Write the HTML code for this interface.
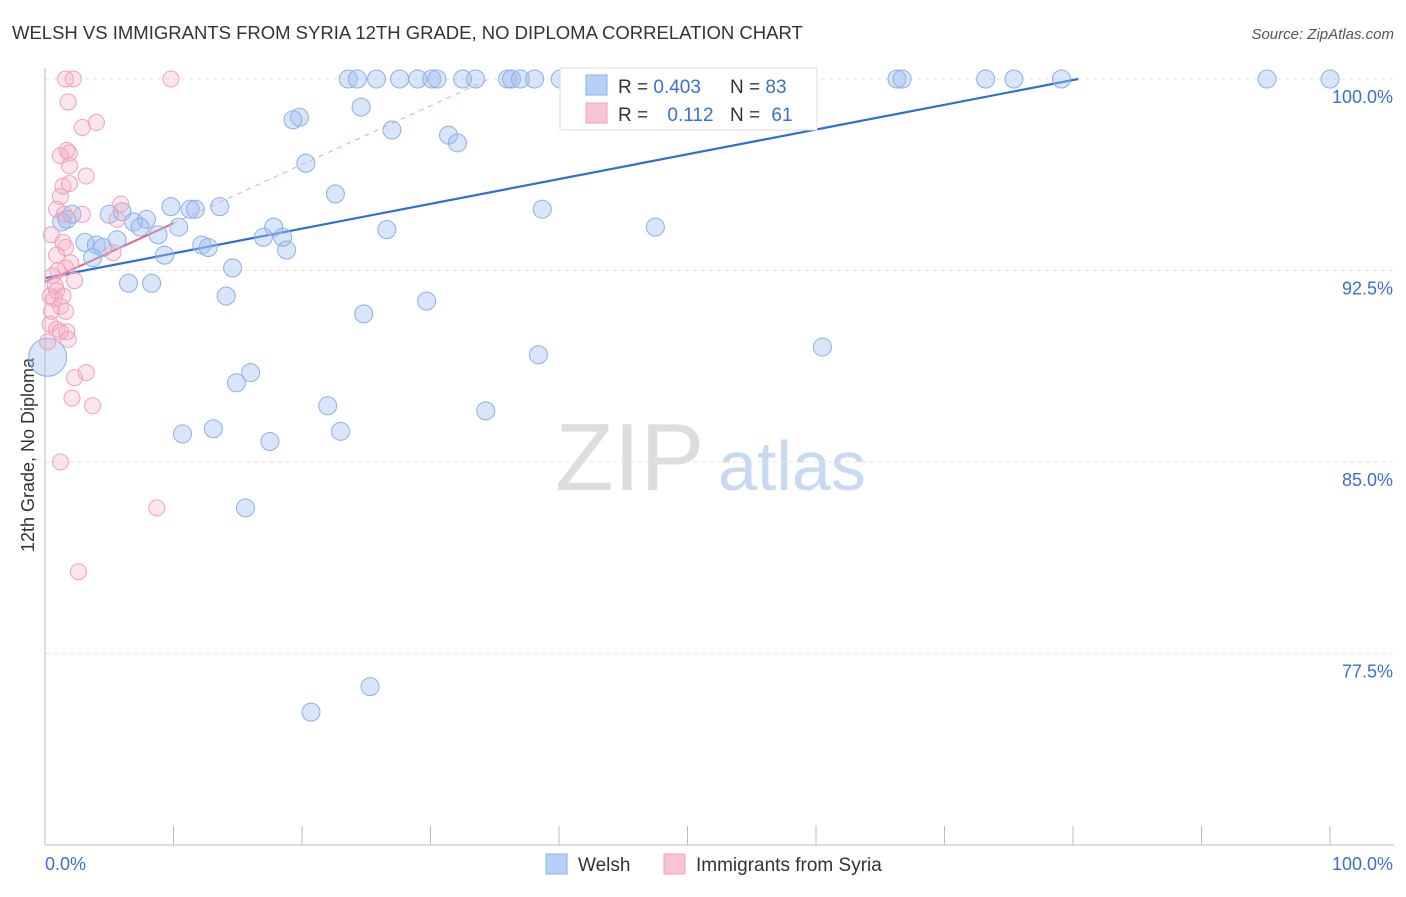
<!DOCTYPE html>
<html><head><meta charset="utf-8"><style>
body{margin:0;background:#fff;font-family:"Liberation Sans",sans-serif}
svg text{font-family:"Liberation Sans",sans-serif}
</style></head><body>
<svg id="c" width="1406" height="892" xmlns="http://www.w3.org/2000/svg">
<text x="12" y="39" font-size="18.5" fill="#333">WELSH VS IMMIGRANTS FROM SYRIA 12TH GRADE, NO DIPLOMA CORRELATION CHART</text>
<text x="1394" y="39" font-size="15" fill="#555" text-anchor="end" font-style="italic">Source: ZipAtlas.com</text>
<text x="34" y="455" font-size="18" fill="#333" text-anchor="middle" transform="rotate(-90 34 455)">12th Grade, No Diploma</text>
<g><text x="555" y="490" font-size="96" fill="#ddd" font-family="Liberation Serif,serif">ZIP</text><text x="718" y="490" font-size="70" fill="#c8daf2">atlas</text></g>
<g id="grid"></g><g id="axes"></g><g id="trend"></g><g id="pts"></g>
<g>
<rect x="560" y="68" width="257" height="62" fill="#fff" stroke="#ddd"/>
<rect x="586" y="75" width="21" height="20" fill="#b7d0f5" stroke="#8ab0e8"/>
<rect x="586" y="103" width="21" height="20" fill="#f9c3d4" stroke="#f0a0bc"/>
<text x="618" y="93" font-size="19" fill="#333">R = <tspan fill="#3a6fd0">0.403</tspan></text>
<text x="730" y="93" font-size="19" fill="#333">N = <tspan fill="#3a6fd0">83</tspan></text>
<text x="618" y="121" font-size="19" fill="#333">R = <tspan fill="#3a6fd0" dx="14">0.112</tspan></text>
<text x="730" y="121" font-size="19" fill="#333">N = <tspan fill="#3a6fd0" dx="6">61</tspan></text>
</g>
<g>
<rect x="546" y="854" width="21" height="20" fill="#b7d0f5" stroke="#8ab0e8"/>
<text x="578" y="871" font-size="19" fill="#333">Welsh</text>
<rect x="664" y="854" width="21" height="20" fill="#f9c3d4" stroke="#f0a0bc"/>
<text x="696" y="871" font-size="19" fill="#333">Immigrants from Syria</text>
</g>
</svg>
<script>
const yTicks=[100,92.5,85,77.5];
const yTickLabels=["100.0%","92.5%","85.0%","77.5%"];
const welshX=[23.6,24.3,25.8,27.6,29.0,30.1,30.5,32.5,33.5,36.0,36.3,37.0,38.1,40.1,41.2,45.7,54.1,66.3,66.7,73.2,75.4,79.1,95.1,100,24.6,19.8,19.3,27.0,31.4,32.1,20.3,22.6,38.7,9.8,11.3,11.7,13.6,5.0,6.0,2.1,1.3,1.7,6.9,7.9,7.4,10.4,17.8,26.6,47.5,8.8,5.6,3.1,4.0,4.5,17.0,18.5,12.2,12.7,18.8,9.3,3.7,14.6,6.5,8.3,14.1,29.7,24.8,38.4,60.5,0.2,16.0,14.9,22.0,34.3,10.7,13.1,17.5,23.0,15.6,25.3,20.7];
const welshY=[100,100,100,100,100,100,100,100,100,100,100,100,100,100,100,100,100,100,100,100,100,100,100,100,98.9,98.5,98.4,98.0,97.8,97.5,96.7,95.5,94.9,95.0,94.9,94.9,95.0,94.7,94.8,94.7,94.4,94.5,94.4,94.5,94.2,94.2,94.2,94.1,94.2,93.9,93.7,93.6,93.5,93.4,93.8,93.8,93.5,93.4,93.3,93.1,93.0,92.6,92.0,92.0,91.5,91.3,90.8,89.2,89.5,89.1,88.5,88.1,87.2,87.0,86.1,86.3,85.8,86.2,83.2,76.2,75.2];
const syriaX=[1.6,2.2,9.8,1.8,4.0,2.9,1.7,1.2,1.9,1.9,3.2,1.4,1.9,1.2,5.9,0.9,2.9,1.5,5.6,0.5,1.4,1.6,5.3,0.9,2.0,1.0,1.6,0.6,2.3,0.8,0.9,0.4,0.7,1.4,1.2,1.6,0.5,0.4,0.9,1.2,1.7,1.8,0.2,2.3,3.2,2.1,3.7,1.2,8.7,2.6];
const syriaY=[100,100,100,99.1,98.3,98.1,97.2,97.0,97.1,96.6,96.2,95.8,95.9,95.4,95.1,94.9,94.7,94.7,94.5,93.9,93.6,93.4,93.2,93.1,92.8,92.5,92.6,92.3,92.1,91.9,91.7,91.5,91.4,91.5,91.1,90.9,90.9,90.4,90.2,90.1,90.1,89.8,89.7,88.3,88.5,87.5,87.2,85.0,83.2,80.7];
const welshTrend=[92.2,0.097];
const syriaTrend=[92.05,0.23];
const X=v=>45+v*12.85, Y=v=>79+(100-v)*25.53;
const NS="http://www.w3.org/2000/svg";
function mk(p,t,a){const e=document.createElementNS(NS,t);for(const k in a)e.setAttribute(k,a[k]);document.getElementById(p).appendChild(e);return e;}
yTicks.forEach((t,i)=>{
 const l=mk('grid','line',{x1:45,x2:1394,y1:Y(t),y2:Y(t),stroke:'#e2e2e2','stroke-dasharray':'4,4'});
 
 
 const tx=mk('grid','text',{x:1393,y:Y(t)+24,'font-size':18,fill:'#3a6fd0','text-anchor':'end'});tx.textContent=yTickLabels[i];
 
 
});
let a=mk('axes','line',{x1:45,x2:1394,y1:845,y2:845,stroke:'#bbb'});


a=mk('axes','line',{x1:45,x2:45,y1:68,y2:845,stroke:'#bbb'});


for(let i=0;i<=10;i++){const t=mk('axes','line',{x1:X(i*10),x2:X(i*10),y1:826,y2:845,stroke:'#bbb'});
 
 }
let t0=mk('axes','text',{x:45,y:870,'font-size':18,fill:'#3a6fd0'});t0.textContent='0.0%';


let t1=mk('axes','text',{x:1393,y:870,'font-size':18,fill:'#3a6fd0','text-anchor':'end'});t1.textContent='100.0%';


welshX.forEach((x,i)=>{const c=mk('pts','circle',{cx:X(x),cy:Y(welshY[i]),r:(x<0.5&&welshY[i]<90)?19:9,fill:'rgba(160,190,240,0.4)',stroke:'#8ab0e8','stroke-width':1});
 
 });
syriaX.forEach((x,i)=>{const c=mk('pts','circle',{cx:X(x),cy:Y(syriaY[i]),r:8,fill:'rgba(245,170,195,0.3)',stroke:'#f0a0bc','stroke-width':1});
 
 });
const wx2=(100-welshTrend[0])/welshTrend[1];
let l=mk('trend','line',{x1:X(0),y1:Y(welshTrend[0]),x2:X(wx2),y2:Y(100),stroke:'#2e6fd6','stroke-width':2.2});


const sx2=(100-syriaTrend[0])/syriaTrend[1];
l=mk('trend','line',{x1:X(10),y1:Y(syriaTrend[0]+10*syriaTrend[1]),x2:X(sx2),y2:Y(100),stroke:'#f0a0bc','stroke-width':1,'stroke-dasharray':'5,5'});


l=mk('trend','line',{x1:X(0),y1:Y(syriaTrend[0]),x2:X(10),y2:Y(syriaTrend[0]+10*syriaTrend[1]),stroke:'#e8608e','stroke-width':2});


</script>
</body></html>
